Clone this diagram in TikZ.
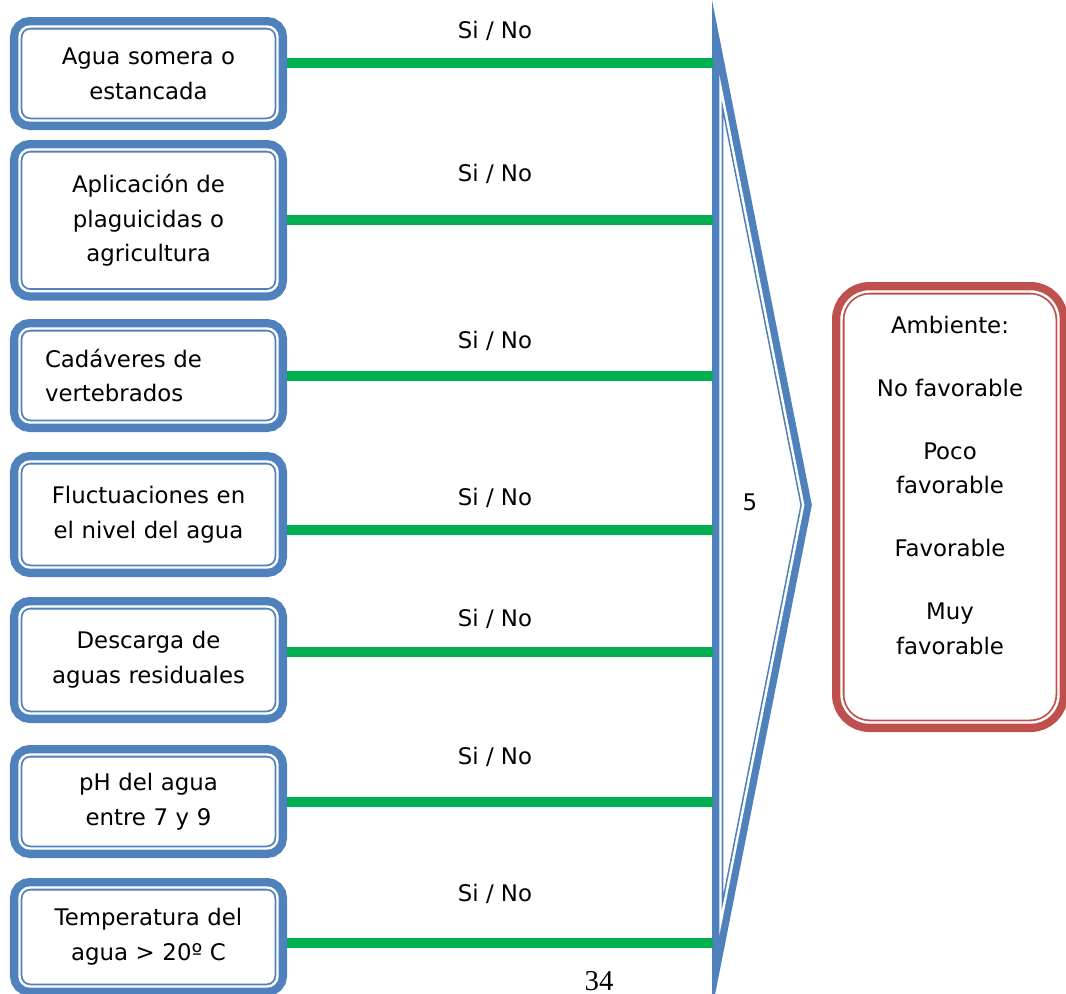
\documentclass[tikz,border=0pt]{standalone}
\usepackage{fontspec}
\setmainfont{DejaVu Sans}
\newfontfamily\pagefont{Liberation Serif}
\definecolor{boxblue}{HTML}{4F81BD}
\definecolor{boxred}{HTML}{C0504D}
\definecolor{yesgreen}{HTML}{00B050}

\begin{document}
\begin{tikzpicture}[
  factor/.style={draw=boxblue,line width=0.36mm,double=white,double distance=0.48mm,
    preaction={draw=boxblue,line width=3.8mm},fill=white,rounded corners=2.1mm,
    outer sep=1.9mm,minimum width=5.16cm,text width=4.14cm,align=center,
    font=\fontsize{13}{19.8}\selectfont},
  verdict/.style={draw=boxred,line width=0.36mm,double=white,double distance=0.48mm,
    preaction={draw=boxred,line width=3.8mm},fill=white,rounded corners=5.6mm,
    minimum width=4.34cm,minimum height=8.62cm},
  funnel/.style={draw=boxblue,line width=0.32mm,double=white,double distance=0.48mm,
    preaction={draw=boxblue,line width=3.4mm,miter limit=12},fill=white,miter limit=12},
  answer/.style={anchor=base,font=\fontsize{13}{19.8}\selectfont},
  every edge/.style={draw=yesgreen,line width=2mm}
]
\useasboundingbox (0,0) rectangle (21.32,-19.88);

\draw[funnel] (14.41,-1.736) coordinate (top) -- (16.064,-10.1) coordinate (tip)
 -- (14.41,-18.464) coordinate (bottom) -- cycle;
\node[answer] (cinco) at (15.0,-10.2) {5};

\node[factor,minimum height=1.88cm] (agua) at (2.97,-1.47)
 {Agua somera o\\estancada};
\node[factor,minimum height=2.834cm] (plaguicidas) at (2.97,-4.407)
 {Aplicación de\\plaguicidas o\\agricultura};
\node[factor,minimum height=1.88cm,align=left] (cadaveres) at (2.97,-7.51)
 {Cadáveres de\\vertebrados};
\node[factor,minimum height=2.12cm] (nivel) at (2.97,-10.29)
 {Fluctuaciones en\\el nivel del agua};
\node[factor,minimum height=2.14cm] (descarga) at (2.97,-13.2)
 {Descarga de\\aguas residuales};
\node[factor,minimum height=1.88cm] (ph) at (2.97,-16.03)
 {pH del agua\\entre 7 y 9};
\node[factor,minimum height=1.98cm] (temp) at (2.97,-18.74)
 {Temperatura del\\agua > 20º C};

\coordinate (bar1) at (14.25,-1.26);
\coordinate (bar2) at (14.25,-4.40);
\coordinate (bar3) at (14.25,-7.52);
\coordinate (bar4) at (14.25,-10.60);
\coordinate (bar5) at (14.25,-13.04);
\coordinate (bar6) at (14.25,-16.04);
\coordinate (bar7) at (14.25,-18.86);

\path (agua.east |- bar1) edge (bar1)
      (plaguicidas.east |- bar2) edge (bar2)
      (cadaveres.east |- bar3) edge (bar3)
      (nivel.east |- bar4) edge (bar4)
      (descarga.east |- bar5) edge (bar5)
      (ph.east |- bar6) edge (bar6)
      (temp.east |- bar7) edge (bar7);

\node[answer] (si1) at (9.9,-0.77) {Si / No};
\node[answer] (si2) at (9.9,-3.63) {Si / No};
\node[answer] (si3) at (9.9,-6.97) {Si / No};
\node[answer] (si4) at (9.9,-10.11) {Si / No};
\node[answer] (si5) at (9.9,-12.53) {Si / No};
\node[answer] (si6) at (9.9,-15.29) {Si / No};
\node[answer] (si7) at (9.9,-18.03) {Si / No};

\node[verdict] (ambiente) at (19.0,-10.14) {};
\node[anchor=north,align=center,font=\fontsize{13}{19.8}\selectfont] (escala) at (19.0,-6.2)
 {Ambiente:\\[0.56cm]No favorable\\[0.56cm]Poco\\favorable\\[0.56cm]Favorable\\[0.56cm]Muy\\favorable};

\node[anchor=base,font=\pagefont\fontsize{16.4}{19}\selectfont] (pagina) at (11.98,-19.8) {34};
\end{tikzpicture}
\end{document}
